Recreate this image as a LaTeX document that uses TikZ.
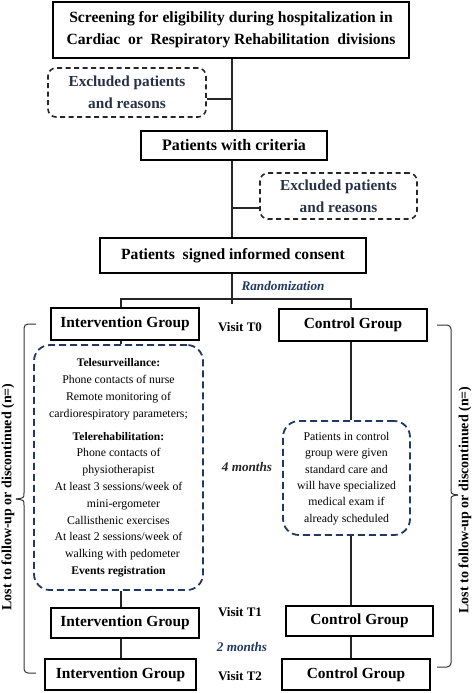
\documentclass[tikz,border=0pt]{standalone}
\usepackage{fontspec}
\setmainfont{Liberation Serif}
\usetikzlibrary{calc}
\definecolor{navy}{RGB}{31,56,100}
\definecolor{dnavy}{RGB}{40,48,70}
\tikzset{
  solidbox/.style={draw=black, line width=1.8pt, inner sep=0pt, font=\bfseries},
  exclbox/.style={draw=black!85, line width=1.6pt, dash pattern=on 5pt off 3.5pt, rounded corners=8pt, inner sep=0pt, align=center, text=dnavy, font=\fontsize{15.3}{22}\selectfont\bfseries},
  armbox/.style={draw=navy, line width=1.8pt, dash pattern=on 7pt off 4pt, rounded corners=16pt, inner sep=0pt},
  conn/.style={draw=black!85, line width=1.2pt},
  brk/.style={draw=black!80, line width=1pt, rounded corners=4pt},
  lbl/.style={font=\fontsize{13}{15}\selectfont\bfseries},
  sidelbl/.style={font=\fontsize{14}{16}\selectfont\bfseries, rotate=90},
  grp/.style={solidbox, minimum width=148pt, font=\fontsize{15.4}{18}\selectfont\bfseries},
}
\begin{document}
\begin{tikzpicture}[x=1pt,y=-1pt]
\useasboundingbox (0,0) rectangle (472,693);
% columns
\coordinate (L) at (121,0);
\coordinate (R) at (351,0);
\coordinate (T) at (232,0);
% top part
\node[solidbox, minimum width=356pt, minimum height=56pt, align=center, font=\fontsize{15.6}{22}\selectfont\bfseries] (top) at (231,30)
  {Screening for eligibility during hospitalization in\\Cardiac\ \ or\ \ Respiratory Rehabilitation\ \ divisions};
\node[exclbox, minimum width=158pt, minimum height=49pt] (ex1) at (127,92.5) {Excluded patients\\and reasons};
\node[solidbox, minimum width=186pt, minimum height=29pt, font=\fontsize{16}{18}\selectfont\bfseries] (crit) at (234,145.5) {Patients with criteria};
\node[exclbox, minimum width=157pt, minimum height=46pt] (ex2) at (338.5,196) {Excluded patients\\and reasons};
\node[solidbox, minimum width=266pt, minimum height=35pt, font=\fontsize{15.6}{18}\selectfont\bfseries] (cons) at (233,255.5) {Patients\ \ signed informed consent};
\node[font=\fontsize{13.2}{15}\selectfont\bfseries\itshape, text=navy] (rand) at (283,286) {Randomization};
% groups
\node[grp, minimum height=32pt] (ig0) at (125,324) {Intervention Group};
\node[grp, minimum height=32pt] (cg0) at (353,325) {Control Group};
\node[lbl] (v0) at (240,327) {Visit T0};
\node[armbox, minimum width=169pt, minimum height=245pt] (idash) at (118.5,467.5) {};
\node[align=center, font=\fontsize{11.8}{16.8}\selectfont] (itext) at (118.5,468)
  {{\bfseries\fontsize{11.6}{16.8}\selectfont Telesurveillance:}\\
   Phone contacts of nurse\\
   Remote monitoring of\\
   cardiorespiratory parameters;\\[6pt]
   {\bfseries\fontsize{11.6}{16.8}\selectfont Telerehabilitation:}\\
   Phone contacts of\\
   physiotherapist\\
   At least 3 sessions/week of\\
   \hspace*{10pt}mini-ergometer\\
   Callisthenic exercises\\
   At least 2 sessions/week of\\
   \hspace*{8pt}walking with pedometer\\
   {\bfseries\fontsize{11.6}{16.8}\selectfont Events registration}};
\node[armbox, minimum width=127pt, minimum height=114pt] (cdash) at (346.5,478) {};
\node[align=center, font=\fontsize{11.8}{16.3}\selectfont] (ctext) at (346.5,478.5)
  {Patients in control\\group were given\\standard care and\\will have specialized\\medical exam if\\already scheduled};
\node[font=\fontsize{13.2}{15}\selectfont\bfseries\itshape, text=black!85] (m4) at (247,467) {4 months};
\node[grp, minimum height=30pt] (ig1) at (125,623) {Intervention Group};
\node[grp, minimum width=147pt, minimum height=30pt] (cg1) at (359.5,621) {Control Group};
\node[lbl] (v1) at (240,612) {Visit T1};
\node[font=\fontsize{13.2}{15}\selectfont\bfseries\itshape, text=navy] (m2) at (242,647) {2 months};
\node[grp, minimum width=151pt, minimum height=31pt] (ig2) at (120.5,674.5) {Intervention Group};
\node[grp, minimum height=31pt] (cg2) at (356,674.5) {Control Group};
\node[lbl] (v2) at (240,676) {Visit T2};
% side labels
\node[sidelbl] (lostl) at (8,497) {Lost to follow-up or discontinued (n=)};
\node[sidelbl] (lostr) at (465,500) {Lost to follow-up or discontinued (n=)};
% connectors
\draw[conn] (top.south -| T) -- (crit.north -| T);
\draw[conn] ([yshift=-6.5pt]ex1.east) -- ([yshift=-6.5pt]ex1.east -| T);
\draw[conn] (crit.south -| T) -- (cons.north -| T);
\draw[conn] ([yshift=-12pt]ex2.west) -- ([yshift=-12pt]ex2.west -| T);
\coordinate (split) at (232,299);
\coordinate (trunkend) at (232,304);
\draw[conn] (cons.south -| T) -- (trunkend);
\draw[conn] (ig0.north -| L) -- (split -| L) -- (split -| R) -- (cg0.north -| R);
\draw[conn] (ig0.south -| L) -- (idash.north -| L);
\draw[conn] (idash.south -| L) -- (ig1.north -| L);
\draw[conn] (ig1.south -| L) -- (ig2.north -| L);
\draw[conn] (cg0.south -| R) -- (cdash.north -| R);
\draw[conn] (cdash.south -| R) -- (cg1.north -| R);
\draw[conn] (cg1.south -| R) -- (cg2.north -| R);
% brackets
\coordinate (lbt) at (36,324);
\coordinate (lbb) at (36,673);
\coordinate (ltip) at (16,499);
\draw[brk] (lbt) -- (24,324) -- (24,493);
\draw[brk] (24,505) -- (24,673) -- (lbb);
\draw[brk, rounded corners=0pt] (24,493) .. controls (24,498) .. (ltip);
\draw[brk, rounded corners=0pt] (24,505) .. controls (24,500) .. (ltip);
\coordinate (rbt) at (437,325);
\coordinate (rbb) at (437,667);
\coordinate (rtip) at (458,495);
\draw[brk] (rbt) -- (451,325) -- (451,489);
\draw[brk] (451,501) -- (451,667) -- (rbb);
\draw[brk, rounded corners=0pt] (451,489) .. controls (451,494) .. (rtip);
\draw[brk, rounded corners=0pt] (451,501) .. controls (451,496) .. (rtip);
\end{tikzpicture}
\end{document}
